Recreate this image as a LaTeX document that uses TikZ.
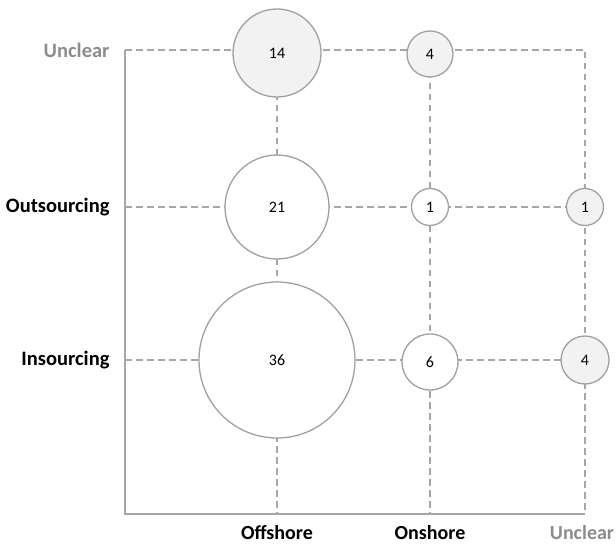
\documentclass[tikz,border=0pt]{standalone}
\usepackage{fontspec}
\setmainfont{Carlito}
\begin{document}
\begin{tikzpicture}[x=1pt,y=-1pt,
  gridline/.style={draw=linegray,line width=1.4pt,dash pattern=on 6.5pt off 4.5pt},
  axisline/.style={draw=linegray,line width=1.4pt},
  bubble/.style={circle,draw=circgray,line width=1.3pt,fill=white,inner sep=0pt,font=\fontsize{16}{16}\selectfont},
  graybubble/.style={bubble,fill=bubblefill},
  rowlabel/.style={anchor=east,font=\bfseries\fontsize{20.5}{20.5}\selectfont},
  collabel/.style={anchor=base,text depth=0pt,inner sep=1pt,font=\bfseries\fontsize{20}{20}\selectfont},
  unclearlabel/.style={text=labelgray}]
\definecolor{linegray}{HTML}{A6A6A6}
\definecolor{circgray}{HTML}{A0A0A0}
\definecolor{bubblefill}{HTML}{F2F2F2}
\definecolor{labelgray}{HTML}{8C8C8C}
\useasboundingbox (0,0) rectangle (616,545);

% grid points: columns offshore / onshore / unclear, rows unclear / outsourcing / insourcing
\coordinate (o) at (125,514);
\coordinate (tl) at (125,50);
\coordinate (ml) at (125,207);
\coordinate (bl) at (125,360);
\coordinate (tr) at (585,50);
\coordinate (mr) at (585,207);
\coordinate (br) at (585,360);
\coordinate (bo1) at (277,514);
\coordinate (bo2) at (430,514);
\coordinate (bo3) at (585,514);
\coordinate (to1) at (277,50);
\coordinate (to2) at (430,50);

% dashed guides
\draw[gridline] (tl) -- (tr) -- (bo3);
\draw[gridline] (ml) -- (mr);
\draw[gridline] (bl) -- (br);
\draw[gridline] (to1) -- (bo1);
\draw[gridline] (to2) -- (bo2);

% axes
\draw[axisline] (tl) -- (o) -- (bo3);

% bubbles
\node[graybubble,minimum size=88pt] (b14) at (277,53) {14};
\node[graybubble,minimum size=46pt] (b4a) at (430,54) {4};
\node[bubble,minimum size=104pt] (b21) at (277,207) {21};
\node[bubble,minimum size=37pt] (b1a) at (430,207) {1};
\node[graybubble,minimum size=37pt] (b1b) at (585,207) {1};
\node[bubble,minimum size=156pt] (b36) at (277,360) {36};
\node[bubble,minimum size=56pt] (b6) at (430,362) {6};
\node[graybubble,minimum size=48pt] (b4b) at (585,360) {4};

% row labels
\node[rowlabel,unclearlabel] (ru) at (113,50) {Unclear};
\node[rowlabel] (ro) at (113,207) {Outsourcing};
\node[rowlabel] (ri) at (113,360) {Insourcing};

% column labels
\node[collabel] (cof) at (277,539) {Offshore};
\node[collabel] (con) at (430,539) {Onshore};
\node[collabel,unclearlabel] (cun) at (582,539) {Unclear};
\end{tikzpicture}
\end{document}
